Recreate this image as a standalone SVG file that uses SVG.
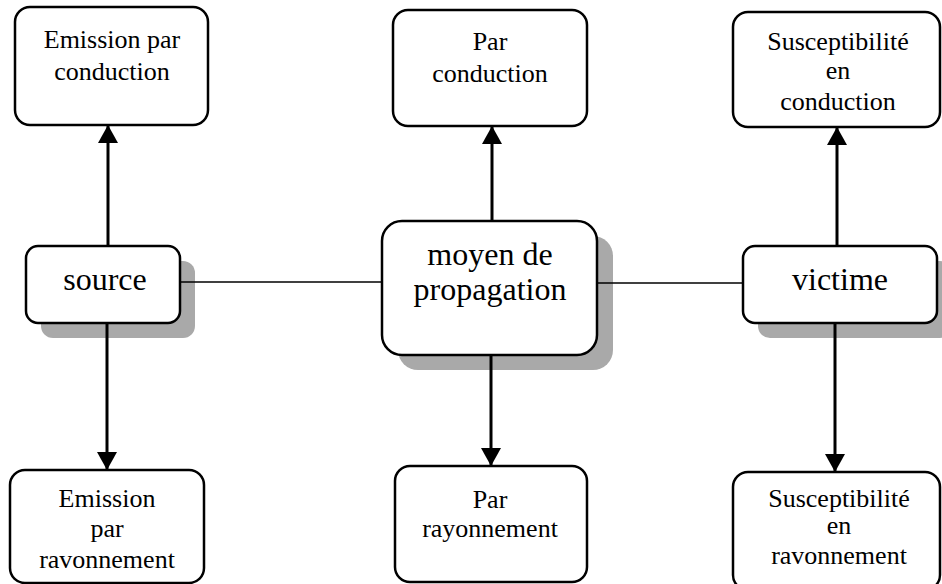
<svg xmlns="http://www.w3.org/2000/svg" width="942" height="584" viewBox="0 0 942 584">
<style>
.box{fill:#fff;stroke:#000;stroke-width:2.5}
.shadow{fill:#a9a9a9}
.t{font-family:"Liberation Serif","Times New Roman",serif;font-size:26px;fill:#000;text-anchor:middle}
.tb{font-family:"Liberation Serif","Times New Roman",serif;font-size:32px;fill:#000;text-anchor:middle}
.v{stroke:#000;stroke-width:3;fill:none}
.h{stroke:#000;stroke-width:1.5;fill:none}
</style>
<defs>
<marker id="arr" viewBox="0 0 18 20" refX="18" refY="10" markerWidth="18" markerHeight="20" markerUnits="userSpaceOnUse" orient="auto">
<path d="M0,0 L18,10 L0,20 z" fill="#000"/>
</marker>
</defs>
<rect width="942" height="584" fill="#fff"/>

<g id="source">
<rect class="shadow" x="41" y="261" width="154" height="77" rx="12"/>
<rect class="box" x="26" y="246" width="154" height="77" rx="12"/>
<text class="tb" x="105" y="290">source</text>
</g>

<g id="moyen">
<rect class="shadow" x="398" y="236" width="215" height="134" rx="20"/>
<rect class="box" x="382" y="221" width="215" height="134" rx="20"/>
<text class="tb" x="490" y="265">moyen de</text>
<text class="tb" x="490" y="300">propagation</text>
</g>

<g id="victime">
<rect class="shadow" x="758" y="261" width="194" height="77" rx="12"/>
<rect class="box" x="743" y="246" width="194" height="77" rx="12"/>
<text class="tb" x="840" y="290">victime</text>
</g>

<g id="emission-conduction">
<rect class="box" x="15" y="7" width="193" height="118" rx="15"/>
<text class="t" x="112" y="48">Emission par</text>
<text class="t" x="112" y="80">conduction</text>
</g>

<g id="par-conduction">
<rect class="box" x="393" y="10" width="194" height="116" rx="15"/>
<text class="t" x="490" y="50">Par</text>
<text class="t" x="490" y="82">conduction</text>
</g>

<g id="susceptibilite-conduction">
<rect class="box" x="733" y="12" width="207" height="115" rx="15"/>
<text class="t" x="838" y="50">Susceptibilité</text>
<text class="t" x="838" y="79">en</text>
<text class="t" x="838" y="110">conduction</text>
</g>

<g id="emission-rayonnement">
<rect class="box" x="10" y="470" width="194" height="113" rx="15"/>
<text class="t" x="107" y="507">Emission</text>
<text class="t" x="107" y="537">par</text>
<text class="t" x="107" y="568">ravonnement</text>
</g>

<g id="par-rayonnement">
<rect class="box" x="395" y="466" width="192" height="116" rx="15"/>
<text class="t" x="490" y="508">Par</text>
<text class="t" x="490" y="537">rayonnement</text>
</g>

<g id="susceptibilite-rayonnement">
<rect class="box" x="733" y="472" width="207" height="118" rx="15"/>
<text class="t" x="839" y="507">Susceptibilité</text>
<text class="t" x="839" y="534">en</text>
<text class="t" x="839" y="564">ravonnement</text>
</g>

<g id="connectors">
<line class="h" x1="180" y1="282" x2="382" y2="282"/>
<line class="h" x1="597" y1="283" x2="743" y2="283"/>
<line class="v" x1="108" y1="246" x2="108" y2="125" marker-end="url(#arr)"/>
<line class="v" x1="107" y1="323" x2="107" y2="470" marker-end="url(#arr)"/>
<line class="v" x1="492" y1="221" x2="492" y2="126" marker-end="url(#arr)"/>
<line class="v" x1="491" y1="355" x2="491" y2="466" marker-end="url(#arr)"/>
<line class="v" x1="837" y1="246" x2="837" y2="127" marker-end="url(#arr)"/>
<line class="v" x1="835" y1="323" x2="835" y2="472" marker-end="url(#arr)"/>
</g>
</svg>
